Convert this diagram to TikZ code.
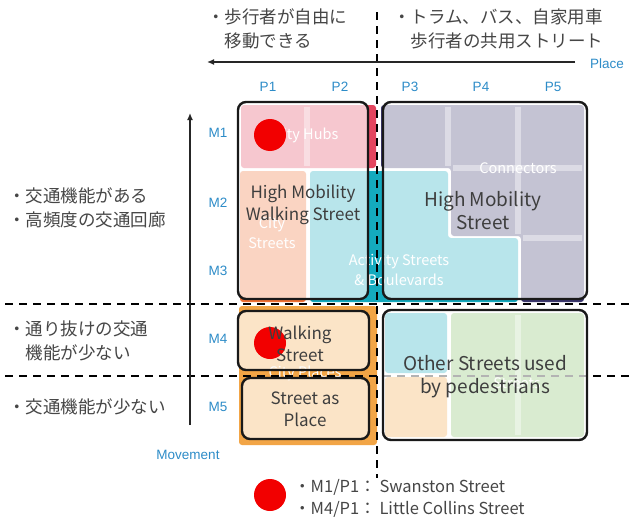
\documentclass[tikz,border=0pt]{standalone}
\usepackage{fontspec}
\setmainfont{Liberation Sans}
\newfontfamily\jp{Noto Sans CJK JP}
\usetikzlibrary{arrows.meta}
\definecolor{hubred}{RGB}{228,70,95}
\definecolor{cityor}{RGB}{240,112,52}
\definecolor{placeor}{RGB}{242,165,70}
\definecolor{actcyan}{RGB}{20,170,190}
\definecolor{connpur}{RGB}{60,55,110}
\definecolor{locgreen}{RGB}{130,190,100}
\definecolor{axblue}{RGB}{45,140,200}
\definecolor{jpgrey}{RGB}{70,70,70}
\definecolor{boxtext}{RGB}{62,62,62}
\tikzset{
  region/.style={rounded corners=3pt},
  gap/.style={draw=white, draw opacity=0.4, line width=6pt},
  overlay box/.style={draw=black!90, line width=2.4pt, rounded corners=8pt, fill=white, fill opacity=0.7},
  sep line/.style={black, line width=2.2pt, dash pattern=on 8pt off 6pt},
  axis arrow/.style={black!85, line width=1.3pt, -{Latex[length=7pt,width=6pt]}},
  axlabel/.style={text=axblue, font=\fontsize{13.5}{15}\selectfont, inner sep=0pt},
  jptext/.style={text=jpgrey, font=\jp\fontsize{17.5}{24}\selectfont, align=left, inner sep=0pt},
  faint/.style={text=white, font=\jp\fontsize{14.5}{20}\selectfont, align=center, inner sep=0pt},
  boxlabel/.style={text=boxtext, font=\jp\fontsize{17}{22}\selectfont, align=center, inner sep=0pt},
  bigboxlabel/.style={text=boxtext, font=\jp\fontsize{19}{23}\selectfont, align=center, inner sep=0pt},
  dot/.style={circle, fill=red!95!black, minimum size=32pt, inner sep=0pt},
  legend/.style={text=jpgrey, font=\jp\fontsize{16.5}{22}\selectfont, align=left, inner sep=0pt}
}
\begin{document}
\begin{tikzpicture}[x=1pt,y=-1pt]
\useasboundingbox (0,0) rectangle (640,522);
\fill[white] (0,0) rectangle (640,522);

% ---------- underlying coloured regions ----------
\fill[hubred, region] (241,105) rectangle (376,168);
\fill[cityor, region] (240,171) rectangle (306,302);
\fill[actcyan, region] (310,171) -- (448,171) -- (448,238) -- (518,238) -- (518,302) -- (310,302) -- cycle;
\fill[connpur, region] (381,105) -- (584,105) -- (584,302) -- (521,302) -- (521,236) -- (451,236) -- (451,168) -- (381,168) -- cycle;
\fill[actcyan, region] (385,313) rectangle (447,373);
\fill[placeor, region] (239,306) rectangle (377,445);
\fill[placeor, region] (385,377) rectangle (447,437);
\fill[locgreen, region] (451,313) rectangle (584,437);
% lighter gaps between cells
\draw[gap] (307,107) -- (307,166);
\draw[gap] (447.5,107) -- (447.5,166);
\draw[gap] (517.5,107) -- (517.5,234);
\draw[gap] (453,168) -- (582,168);
\draw[gap] (523,238) -- (582,238);
\draw[gap] (517.5,315) -- (517.5,435);

% faded category names
\node[faint] (hubs) at (306,135) {City Hubs};
\node[faint] (conn) at (518,168) {Connectors};
\node[faint] (cityst) at (272,233) {City\\Streets};
\node[faint] (activ) at (399,270) {Activity Streets\\\& Boulevards};
\node[faint] (cityplaces) at (305,373) {City Places};
\node[faint] (locst) at (517,383) {Streets};

% ---------- separating dashed lines ----------
\coordinate (vtop) at (377,12);
\coordinate (vbot) at (377,478);
\coordinate (h1l) at (5,304);
\coordinate (h1r) at (630,304);
\coordinate (h2l) at (5,376);
\coordinate (h2r) at (630,376);
\draw[sep line] (vtop) -- (vbot);
\draw[sep line] (h1l) -- (h1r);
\draw[sep line] (h2l) -- (h2r);

% ---------- overlay boxes ----------
\draw[overlay box] (238,102) rectangle (368,299);
\draw[overlay box] (383,102) rectangle (587,299);
\draw[overlay box] (238,311) rectangle (369,370);
\draw[overlay box] (242,378) rectangle (369,439);
\draw[overlay box] (383,310) rectangle (587,440);

% red markers
\node[dot] (d1) at (270,135) {};
\node[dot] (d2) at (270,343) {};

% box labels
\node[boxlabel] (hmws) at (303,205) {High Mobility\\Walking Street};
\node[bigboxlabel] (hms) at (483,211) {High Mobility\\Street};
\node[boxlabel] (ws) at (300,344) {Walking\\Street};
\node[boxlabel] (sap) at (305,409) {Street as\\Place};
\node[bigboxlabel] (osp) at (485,377) {Other Streets used\\by pedestrians};

% ---------- axes ----------
\coordinate (pstart) at (575,62);
\coordinate (pend) at (207,62);
\draw[axis arrow] (pstart) -- (pend);
\coordinate (mstart) at (190,425);
\coordinate (mend) at (190,113);
\draw[axis arrow] (mstart) -- (mend);
\node[axlabel] (place) at (607,64) {Place};
\node[axlabel] (move) at (188,455) {Movement};
\node[axlabel] (p1) at (268,87) {P1};
\node[axlabel] (p2) at (340,87) {P2};
\node[axlabel] (p3) at (410,87) {P3};
\node[axlabel] (p4) at (481,87) {P4};
\node[axlabel] (p5) at (553,87) {P5};
\node[axlabel] (m1) at (218,133) {M1};
\node[axlabel] (m2) at (218,203) {M2};
\node[axlabel] (m3) at (218,271) {M3};
\node[axlabel] (m4) at (218,339) {M4};
\node[axlabel] (m5) at (218,407) {M5};

% ---------- Japanese notes ----------
\node[jptext, anchor=west] (tl) at (207,29) {・歩行者が自由に\\\hspace{17.5pt}移動できる};
\node[jptext, anchor=west] (tr) at (393,29) {・トラム、バス、自家用車\\\hspace{17.5pt}歩行者の共用ストリート};
\node[jptext, anchor=west] (l1) at (8,208) {・交通機能がある\\・高頻度の交通回廊};
\node[jptext, anchor=west] (l2) at (8,341) {・通り抜けの交通\\\hspace{17.5pt}機能が少ない};
\node[jptext, anchor=west] (l3) at (8,407) {・交通機能が少ない};

% ---------- legend ----------
\node[dot] (d3) at (270,495) {};
\node[legend, anchor=west] (leg) at (294,498) {・M1/P1： Swanston Street\\・M4/P1： Little Collins Street};
\end{tikzpicture}
\end{document}
